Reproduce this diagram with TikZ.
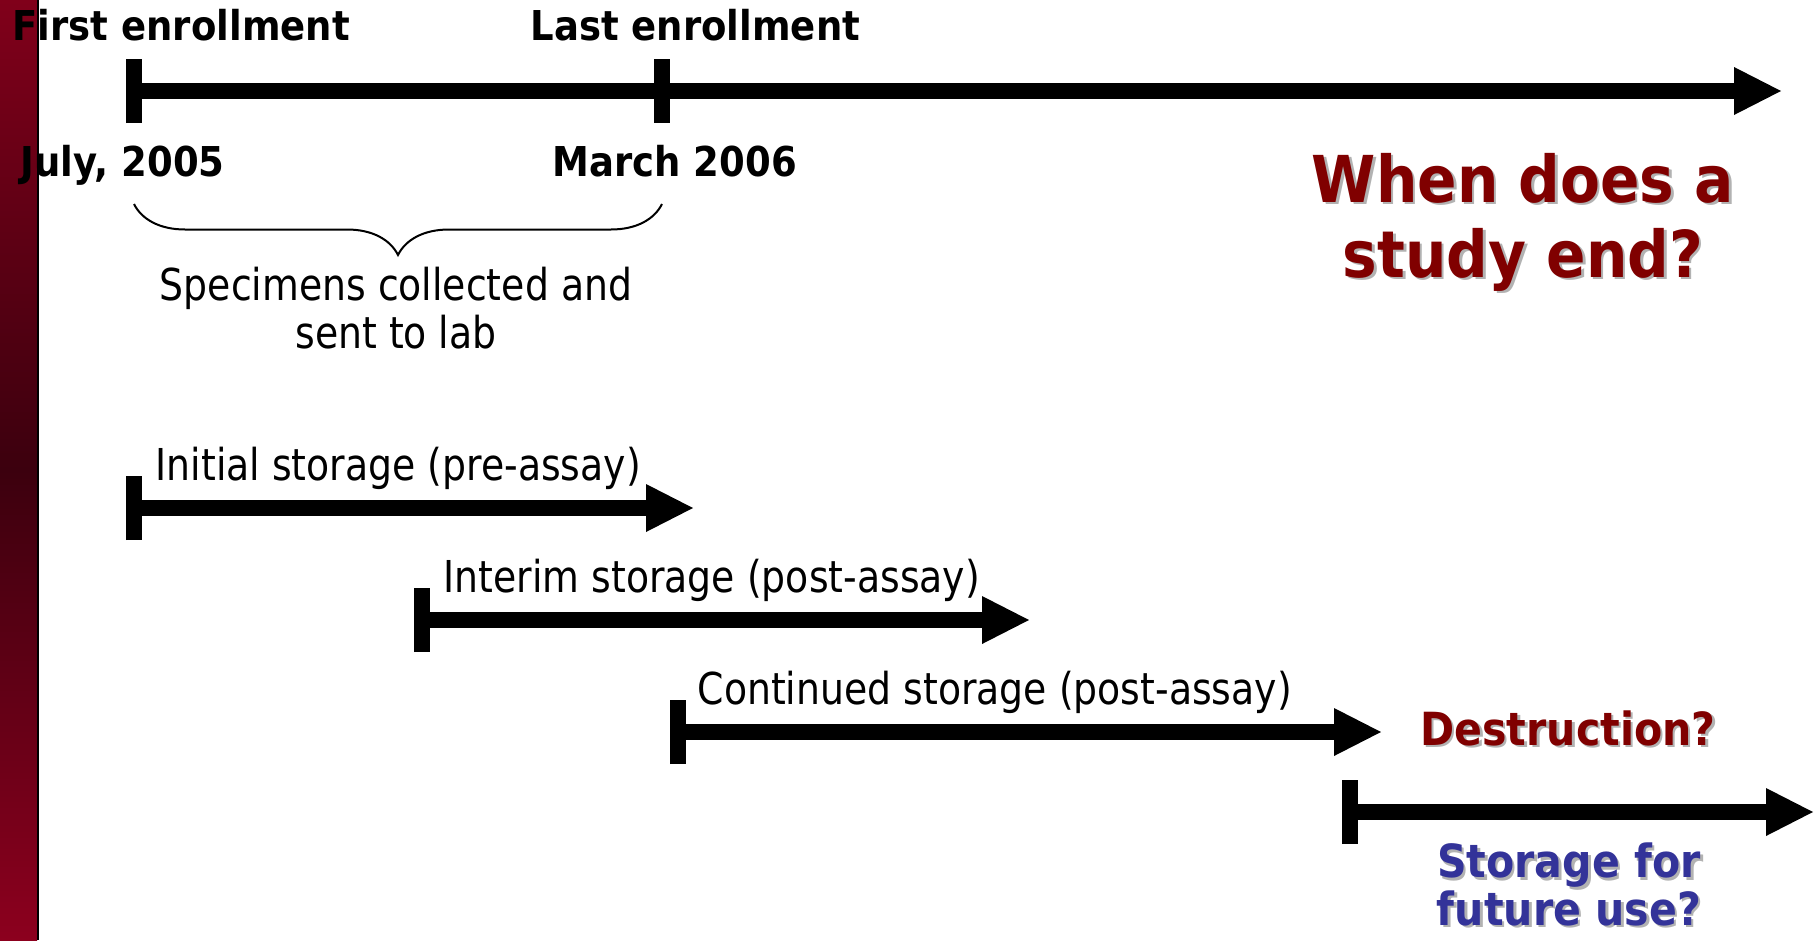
\documentclass[tikz,border=0pt]{standalone}
\usepackage{fontspec}
\usetikzlibrary{arrows.meta,decorations.pathreplacing}
\newfontfamily\lblfont{DejaVu Sans}[FakeStretch=0.86]
\newfontfamily\hdfont{DejaVu Sans}[FakeStretch=0.9]
\definecolor{maroon}{RGB}{128,0,0}
\definecolor{indigo}{RGB}{51,51,153}
\definecolor{bartop}{RGB}{128,0,26}
\definecolor{barmid}{RGB}{60,0,14}
\definecolor{barbot}{RGB}{140,0,30}
\newcommand{\shd}[1]{\leavevmode\rlap{\kern0.25mm\raisebox{-0.25mm}{\textcolor{black!30}{#1}}}#1}

\begin{document}
\begin{tikzpicture}[x=0.1mm,y=-0.1mm,
  tl/.style={line width=1.6mm,{Bar[width=6.4mm]}-{Triangle[length=4.7mm,width=4.8mm,line width=0pt]}},
  tick/.style={line width=1.6mm},
  lbl/.style={inner sep=0pt,font=\lblfont\fontsize{12.5pt}{13.4pt}\selectfont},
  dt/.style={inner sep=0pt,anchor=base west,font=\hdfont\bfseries\fontsize{11.7pt}{14pt}\selectfont},
  q/.style={inner sep=0pt,align=center,font=\hdfont\bfseries\fontsize{13pt}{13.4pt}\selectfont}]
\useasboundingbox (0,0) rectangle (1817,940);
% side bar
\shade[top color=bartop,bottom color=barbot,middle color=barmid] (0,0) rectangle (37,940);
\fill[black] (37,0) rectangle (39,940);

% timeline
\coordinate (t0) at (126,91);
\coordinate (t1) at (662,91);
\coordinate (tend) at (1781,91);
\draw[tl] (t0) -- (tend);
\draw[tick] (t1) ++(0,-32) -- ++(0,64);
\node[dt] (fe) at (12,40) {First enrollment};
\node[dt] (le) at (530,40) {Last enrollment};
\node[dt] (d0) at (20,176) {July, 2005};
\node[dt] (d1) at (552,176) {March 2006};

% collection period
\coordinate (bl) at (134,204);
\coordinate (br) at (662,204);
\draw[line width=0.2mm,decorate,decoration={brace,amplitude=5.1mm}] (br) -- (bl);
\node[lbl,align=center,anchor=base] (spec) at (396,348) {Specimens collected and\\sent to lab};

\node[q,text=maroon,anchor=base,font=\hdfont\bfseries\fontsize{18.4pt}{21.3pt}\selectfont] (ttl) at (1523,277) {\shd{When does a}\\\shd{study end?}};

% storage phases
\coordinate (i0) at (126,508);
\coordinate (i1) at (693,508);
\draw[tl] (i0) -- (i1);
\node[lbl,anchor=base west] (init) at (155,480) {Initial storage (pre-assay)};

\coordinate (m0) at (414,620);
\coordinate (m1) at (1029,620);
\draw[tl] (m0) -- (m1);
\node[lbl,anchor=base west] (intr) at (443,592) {Interim storage (post-assay)};

\coordinate (c0) at (670,732);
\coordinate (c1) at (1381,732);
\draw[tl] (c0) -- (c1);
\node[lbl,anchor=base west] (cont) at (697,704) {Continued storage (post-assay)};

\node[q,text=maroon,anchor=base] (dest) at (1568,745) {\shd{Destruction?}};

\coordinate (f0) at (1342,812);
\coordinate (f1) at (1813,812);
\draw[tl] (f0) -- (f1);
\node[q,text=indigo,anchor=base] (fut) at (1569,925) {\shd{Storage for}\\\shd{future use?}};
\end{tikzpicture}
\end{document}
